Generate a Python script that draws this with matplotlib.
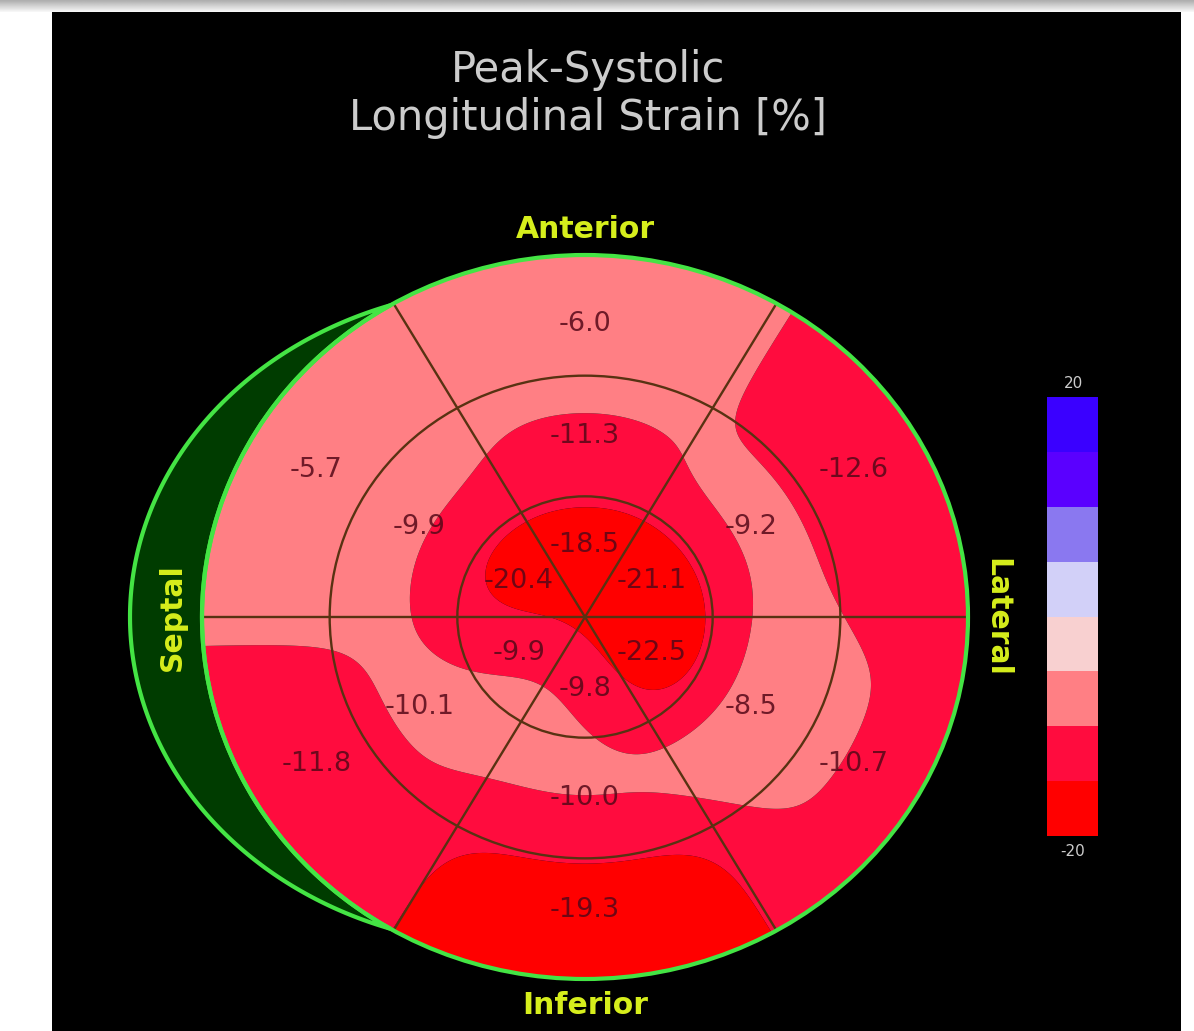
import numpy as np
import matplotlib
matplotlib.use("Agg")
import matplotlib.pyplot as plt
from matplotlib.patches import Circle, Rectangle, Polygon
from matplotlib.colors import ListedColormap, BoundaryNorm
import matplotlib.colorbar as mcolorbar

# ---------------- data (sectors centred at 30, 90, 150, 210, 270, 330 deg) ----------------
sector_names = ["anterolateral", "anterior", "anteroseptal", "inferoseptal", "inferior", "inferolateral"]
basal_values = [-12.6, -6.0, -5.7, -11.8, -19.3, -10.7]
mid_values = [-9.2, -11.3, -9.9, -10.1, -10.0, -8.5]
apical_values = [-21.1, -18.5, -20.4, -9.9, -9.8, -22.5]
scale_levels = [-20, -15, -10, -5, 0, 5, 10, 15, 20]
scale_colors = ["#ff0000", "#ff0c3e", "#ff7f84", "#f8d0d0", "#d2d0f8", "#8a78f0", "#5a00ff", "#3a00ff"]
title_lines = ["Peak-Systolic", "Longitudinal Strain [%]"]

W, H = 1194, 1031
CX, CY, RX, RY = 585, 617, 383, 362


def dx(px):
    return (px - CX) / RX


def dy(py):
    return (CY - py) / RY


fig = plt.figure(figsize=(W / 100, H / 100), dpi=100)
fig.patch.set_facecolor("white")

# top grey strip
top = fig.add_axes([0, (H - 12) / H, 1, 12 / H])
top.imshow(np.linspace(0.68, 0.97, 20)[:, None] * np.ones((1, 10)), cmap="gray",
           vmin=0, vmax=1, aspect="auto", extent=[0, 1, 0, 1])
top.axis("off")

ax = fig.add_axes([0, 0, 1, 1])
ax.set_xlim(dx(0), dx(W))
ax.set_ylim(dy(H), dy(0))
ax.axis("off")
ax.patch.set_alpha(0)

# black panel
ax.add_patch(Rectangle((dx(52), dy(H)), dx(1181) - dx(52), dy(12) - dy(H),
                       facecolor="black", edgecolor="none", zorder=0))

# ---------------- smooth field from segment values ----------------
rings = [apical_values, mid_values, basal_values]
N = 440
g = np.linspace(-1.1, 1.1, N)
X, Y = np.meshgrid(g, g)
R = np.hypot(X, Y)
TH = np.degrees(np.arctan2(Y, X)) % 360
sector = np.clip((TH // 60).astype(int), 0, 5)
ring = np.clip((R * 3).astype(int), 0, 2)
vals = np.array(rings)
V = vals[ring, sector]
M = (R <= 1.0).astype(float)
V = np.where(M > 0, V, 0.0)
sigma = 0.1
K = np.exp(-((g[:, None] - g[None, :]) ** 2) / (2 * sigma ** 2))
num = K @ (V * M) @ K.T
den = K @ M @ K.T
field = num / np.maximum(den, 1e-9)

# display thresholds (bins of the colour scale, slightly offset as in the device rendering)
shift = -0.45
lv = [-100] + [l + shift for l in scale_levels[1:-1]] + [100]
cs = ax.contourf(X, Y, field, levels=lv, colors=scale_colors, zorder=2, antialiased=True)
clip = Circle((0, 0), 1.0, transform=ax.transData)
cs.set_clip_path(clip)

# segment lines
line_col = "#583212"
for rr in (1 / 3, 2 / 3):
    ax.add_patch(Circle((0, 0), rr, fill=False, edgecolor=line_col, lw=1.7, zorder=4))
for a in range(0, 360, 60):
    t = np.radians(a)
    ax.plot([0, np.cos(t)], [0, np.sin(t)], color=line_col, lw=1.7, zorder=4)

# septal crescent
c, a_e, b_e = -0.188, 1.0, 0.909
tip_x = -0.509
t0 = np.degrees(np.arccos((tip_x - c) / a_e))
tt = np.radians(np.linspace(t0, 360 - t0, 200))
outer = np.column_stack([c + a_e * np.cos(tt), b_e * np.sin(tt)])
phi0 = np.degrees(np.arccos(tip_x))
pp = np.radians(np.linspace(360 - phi0, phi0, 200))
inner = np.column_stack([np.cos(pp), np.sin(pp)])
cres = Polygon(np.vstack([outer, inner]), closed=True, facecolor="#003c00",
               edgecolor="#44e444", lw=3, zorder=3)
ax.add_patch(cres)
ax.add_patch(Circle((0, 0), 1.0, fill=False, edgecolor="#44e444", lw=3, zorder=5))

# value labels
label_r = [0.2, 0.5, 0.81]
for ri, ring_vals in enumerate(rings):
    for si, v in enumerate(ring_vals):
        ang = np.radians(30 + 60 * si)
        ax.text(label_r[ri] * np.cos(ang), label_r[ri] * np.sin(ang), f"{v:.1f}",
                ha="center", va="center", fontsize=19.5, color="#560818", alpha=0.85, zorder=6)

# direction labels
ycol = "#d6ee1c"
ax.text(0, dy(229), "Anterior", ha="center", va="center", fontsize=21.5, fontweight="bold", color=ycol)
ax.text(0, dy(1006), "Inferior", ha="center", va="center", fontsize=21.5, fontweight="bold", color=ycol)
ax.text(dx(172), 0, "Septal", ha="center", va="center", fontsize=21.5, fontweight="bold",
        color=ycol, rotation=90, zorder=6)
ax.text(dx(997), 0, "Lateral", ha="center", va="center", fontsize=21.5, fontweight="bold",
        color=ycol, rotation=-90, zorder=6)

# title
ax.text(dx(588), dy(70), title_lines[0], ha="center", va="center", fontsize=30, color="#cccccc")
ax.text(dx(588), dy(118), title_lines[1], ha="center", va="center", fontsize=30, color="#cccccc")

# colour scale
cax = fig.add_axes([1047 / W, (H - 836) / H, 51 / W, (836 - 397) / H])
cb = mcolorbar.ColorbarBase(cax, cmap=ListedColormap(scale_colors),
                            norm=BoundaryNorm(scale_levels, len(scale_colors)),
                            orientation="vertical")
cb.outline.set_visible(False)
cb.set_ticks([])
ax.text(dx(1073), dy(383), f"{scale_levels[-1]}", ha="center", va="center", fontsize=11, color="#cccccc")
ax.text(dx(1073), dy(852), f"{scale_levels[0]}", ha="center", va="center", fontsize=11, color="#cccccc")

fig.savefig("out.png", dpi=100, facecolor="white")
